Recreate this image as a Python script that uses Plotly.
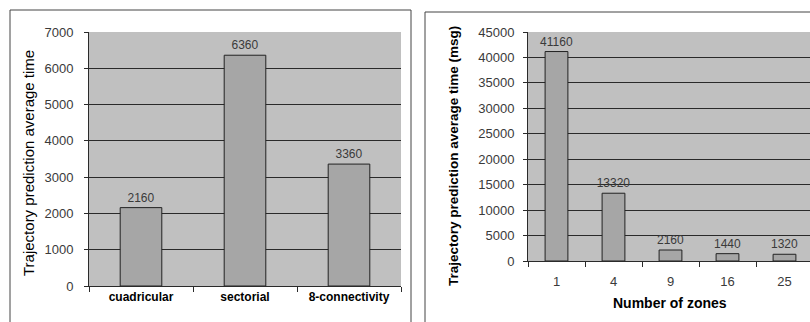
import plotly.graph_objects as go

# Data
methods = ["cuadricular", "sectorial", "8-connectivity"]
method_times = [2160, 6360, 3360]
left_ticks = [0, 1000, 2000, 3000, 4000, 5000, 6000, 7000]

zones = ["1", "4", "9", "16", "25"]
zone_times = [41160, 13320, 2160, 1440, 1320]
right_ticks = [0, 5000, 10000, 15000, 20000, 25000, 30000, 35000, 40000, 45000]

W, H = 810, 322
BAR = "#A6A6A6"
BG = "#C0C0C0"
GRID = "#2a2a2a"
TXT = "#3a3a3a"
FONT = "Liberation Sans, Arial, sans-serif"

fig = go.Figure()
fig.add_trace(go.Bar(
    x=methods, y=method_times, text=[str(v) for v in method_times],
    textposition="outside", cliponaxis=False, constraintext="none",
    textfont=dict(size=12, color=TXT, family=FONT),
    marker=dict(color=BAR, line=dict(color="#222222", width=1)),
    width=0.4, xaxis="x", yaxis="y", showlegend=False))
fig.add_trace(go.Bar(
    x=zones, y=zone_times, text=[str(v) for v in zone_times],
    textposition="outside", cliponaxis=False, constraintext="none",
    textfont=dict(size=12, color=TXT, family=FONT),
    marker=dict(color=BAR, line=dict(color="#222222", width=1)),
    width=0.4, xaxis="x2", yaxis="y2", showlegend=False))

def px_x(v):
    return v / W

def px_y(v):
    return (H - v) / H

axis_common = dict(showline=True, linecolor=GRID, linewidth=1, automargin=False,
                   ticks="outside", tickcolor=GRID, zeroline=False)

fig.update_layout(
    width=W, height=H,
    margin=dict(l=0, r=0, t=0, b=0, pad=0),
    paper_bgcolor="white", plot_bgcolor=BG,
    font=dict(family=FONT, color=TXT, size=13),
    bargap=0.6,
    xaxis=dict(domain=[px_x(89), px_x(401)], type="category",
               tickson="boundaries", ticklen=5, showgrid=False,
               tickfont=dict(size=12, color="black", family=FONT, weight="bold"),
               anchor="y", **axis_common),
    yaxis=dict(domain=[px_y(286), px_y(32)], range=[0, 7000],
               tickvals=left_ticks, tickformat="d", ticklen=4, ticklabelstandoff=8,
               showgrid=False,
               minor=dict(tickvals=left_ticks[1:-1], showgrid=True, gridcolor=GRID,
                          gridwidth=1, ticks=""),
               tickfont=dict(size=13, color=TXT), anchor="x", **axis_common),
    xaxis2=dict(domain=[px_x(528), 1.0], type="category",
                range=[-0.5, 4.5 - 3 / 57], tickson="boundaries", ticklen=5,
                ticklabelstandoff=8,
                showgrid=False, tickfont=dict(size=13, color=TXT),
                anchor="y2", **axis_common),
    yaxis2=dict(domain=[px_y(261), px_y(32)], range=[0, 45000],
                tickvals=right_ticks, tickformat="d", ticklen=4, ticklabelstandoff=6,
                showgrid=False,
                minor=dict(tickvals=right_ticks[1:-1], showgrid=True, gridcolor=GRID,
                           gridwidth=1, ticks=""),
                tickfont=dict(size=13, color=TXT), anchor="x2", **axis_common),
)

# Panel borders
fig.add_shape(type="rect", xref="paper", yref="paper",
              x0=px_x(10), x1=px_x(411), y0=-0.1, y1=px_y(10),
              line=dict(color="#444444", width=1), fillcolor="rgba(0,0,0,0)", layer="below")
fig.add_shape(type="rect", xref="paper", yref="paper",
              x0=px_x(425), x1=1.1, y0=-0.1, y1=px_y(12),
              line=dict(color="#444444", width=1), fillcolor="rgba(0,0,0,0)", layer="below")

# Axis titles
fig.add_annotation(text="Trajectory prediction average time", xref="paper", yref="paper",
                   x=px_x(28), y=px_y(163), xanchor="center", yanchor="middle",
                   textangle=-90, showarrow=False,
                   font=dict(size=15, color="black", family=FONT))
fig.add_annotation(text="Trajectory prediction average time (msg)", xref="paper", yref="paper",
                   x=px_x(453), y=px_y(156), xanchor="center", yanchor="middle",
                   textangle=-90, showarrow=False,
                   font=dict(size=13.5, color="black", family=FONT, weight="bold"))
fig.add_annotation(text="Number of zones", xref="paper", yref="paper",
                   x=px_x(670), y=px_y(303), xanchor="center", yanchor="middle",
                   showarrow=False,
                   font=dict(size=14, color="black", family=FONT, weight="bold"))

fig.write_html("out.html", config={"displayModeBar": False},
               post_script="document.body.style.margin='0';")
